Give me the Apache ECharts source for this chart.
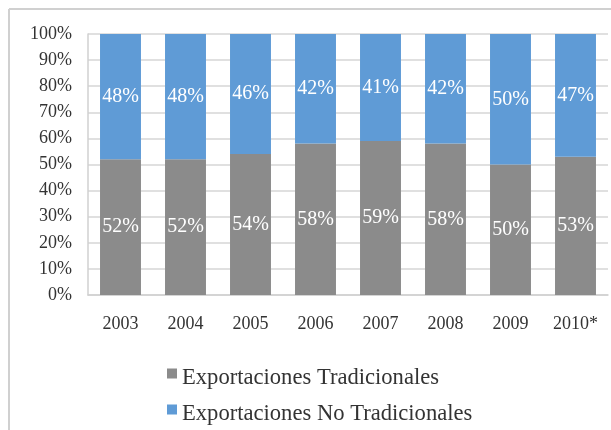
<!DOCTYPE html>
<html>
<head>
<meta charset="utf-8">
<script src="https://cdn.jsdelivr.net/npm/echarts@6/dist/echarts.min.js"></script>
<style>
  html, body { margin: 0; padding: 0; background: #ffffff; }
  #chart { width: 611px; height: 430px; }
</style>
</head>
<body>
<div id="chart"></div>
<script>
// Export composition by year (share of total, %)
const years = ['2003', '2004', '2005', '2006', '2007', '2008', '2009', '2010*'];
const tradicionales = [52, 52, 54, 58, 59, 58, 50, 53];
const noTradicionales = [48, 48, 46, 42, 41, 42, 50, 47];
const yTicks = [0, 10, 20, 30, 40, 50, 60, 70, 80, 90, 100];

const serif = '"Liberation Serif", "DejaVu Serif", serif';

// Legend swatch: a square sitting in the upper half of its box, so it rides high beside the text
const swatch = 'path://M0,0L10,0L10,10L0,10Z M0,20L0.01,20';

const chart = echarts.init(document.getElementById('chart'), null, { renderer: 'canvas' });

const labelStyle = {
  show: true,
  position: 'inside',
  color: '#ffffff',
  fontFamily: serif,
  fontSize: 20,
  fontWeight: 'normal',
  formatter: p => p.value + '%'
};

chart.setOption({
  animation: false,
  backgroundColor: '#ffffff',
  graphic: [
    { type: 'line', shape: { x1: 9, y1: 9, x2: 611, y2: 9 }, style: { stroke: '#d0d0d0', lineWidth: 2 } },
    { type: 'line', shape: { x1: 9, y1: 9, x2: 9, y2: 430 }, style: { stroke: '#d0d0d0', lineWidth: 2 } }
  ],
  grid: { left: 88, right: 3, top: 34, height: 261, containLabel: false },
  xAxis: {
    type: 'category',
    data: years,
    axisTick: { show: false },
    axisLine: { show: true, lineStyle: { color: '#d0d0d0', width: 1.5 } },
    axisLabel: { color: '#333333', fontFamily: serif, fontSize: 18, margin: 20 }
  },
  yAxis: {
    type: 'value',
    min: 0,
    max: 100,
    interval: 10,
    axisLine: { show: true, lineStyle: { color: '#d0d0d0', width: 1.5 } },
    axisTick: { show: false },
    splitLine: { lineStyle: { color: '#d6d6d6', width: 1.5 } },
    axisLabel: {
      color: '#333333', fontFamily: serif, fontSize: 18, margin: 16,
      formatter: v => (yTicks.includes(v) ? v + '%' : '')
    }
  },
  legend: {
    orient: 'vertical',
    left: 167,
    top: 367,
    padding: 0,
    itemWidth: 10,
    itemHeight: 20,
    itemGap: 13,
    icon: swatch,
    itemStyle: { borderWidth: 0 },
    textStyle: { color: '#333333', fontFamily: serif, fontSize: 22.6, lineHeight: 22 },
    data: ['Exportaciones Tradicionales', 'Exportaciones No Tradicionales']
  },
  series: [
    {
      name: 'Exportaciones Tradicionales',
      type: 'bar',
      stack: 'total',
      barWidth: '63%',
      data: tradicionales,
      itemStyle: { color: '#8b8b8b' },
      label: labelStyle
    },
    {
      name: 'Exportaciones No Tradicionales',
      type: 'bar',
      stack: 'total',
      barWidth: '63%',
      data: noTradicionales,
      itemStyle: { color: '#5f9bd6' },
      label: labelStyle
    }
  ]
});
</script>
</body>
</html>
